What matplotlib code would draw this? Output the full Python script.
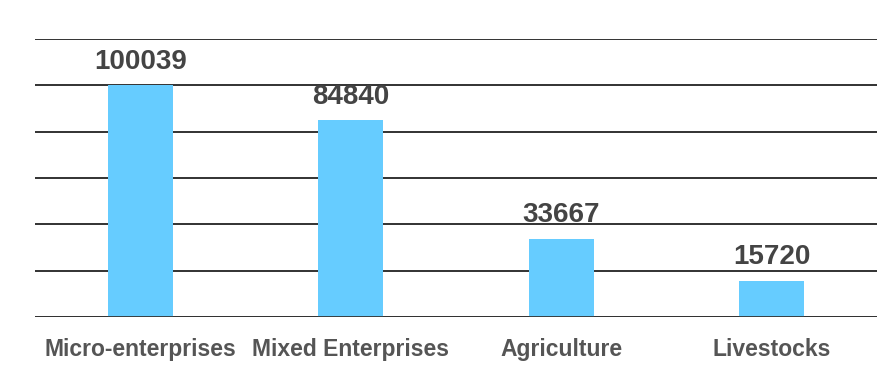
import matplotlib.pyplot as plt

categories = ["Micro-enterprises", "Mixed Enterprises", "Agriculture", "Livestocks"]
values = [100039, 84840, 33667, 15720]
yticks = [0, 20000, 40000, 60000, 80000, 100000, 120000]

plt.rcParams['font.family'] = ['Liberation Sans', 'DejaVu Sans']

fig = plt.figure(figsize=(8.88, 3.67), dpi=100)
ax = fig.add_axes([35 / 888, 1 - 317 / 367, 842 / 888, 278 / 367])

x = range(len(categories))
bars = ax.bar(x, values, width=0.31, color='#66ccff', zorder=2)

ax.set_xlim(-0.5, len(categories) - 0.5)
ax.set_ylim(0, 120000)
ax.set_yticks(yticks)
ax.yaxis.grid(True, color='#222222', linewidth=1.3, zorder=1)
ax.set_axisbelow(True)
ax.tick_params(axis='y', length=0, labelleft=False)
ax.tick_params(axis='x', length=0, pad=15, labelsize=16.5, labelcolor='#555555')
ax.set_xticks(list(x))
ax.set_xticklabels(categories, fontweight='bold')

for spine in ax.spines.values():
    spine.set_visible(False)
ax.axhline(0, color='#333333', linewidth=1.3, zorder=3)

for xi, v in zip(x, values):
    ax.annotate(str(v), (xi, v), xytext=(0, 12), textcoords='offset points',
                ha='center', va='baseline', fontsize=20, fontweight='bold',
                color='#444444')

fig.savefig('out.png', dpi=100)
